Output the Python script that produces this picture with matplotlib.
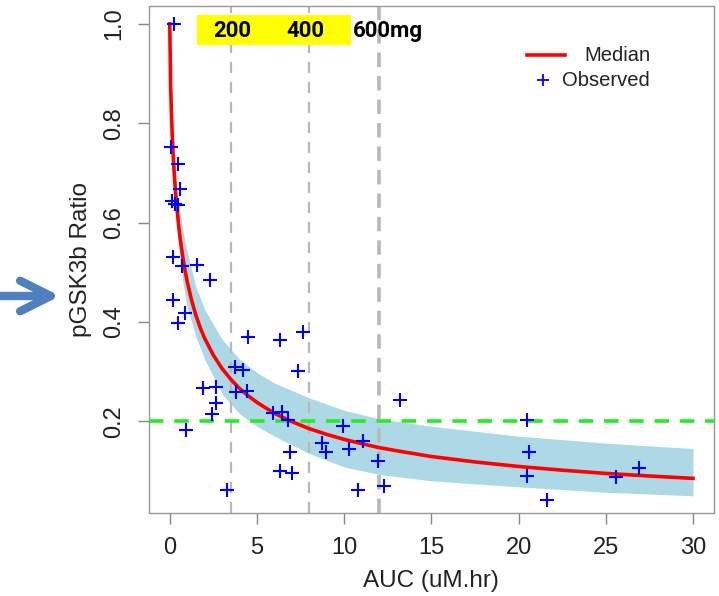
import matplotlib
matplotlib.use("Agg")
import matplotlib.pyplot as plt
from matplotlib.lines import Line2D

plt.rcParams['font.family'] = ['Liberation Sans', 'DejaVu Sans']

# observed pGSK3b ratio vs AUC
obs_auc = [0.22, 0.09, 0.5, 0.6, 0.1, 0.3, 0.45, 0.18, 0.7, 1.56, 2.32, 0.18, 0.85,
           0.45, 4.47, 6.3, 7.62, 7.34, 3.75, 4.22, 1.9, 2.66, 3.8, 4.45, 2.66, 2.45,
           0.94, 3.27, 5.94, 6.42, 6.8, 6.9, 6.33, 7.0, 9.91, 8.71, 8.96, 10.29, 11.1,
           11.95, 10.77, 12.28, 13.2, 20.5, 20.6, 20.5, 21.63, 25.6, 26.9]
obs_ratio = [1.0, 0.752, 0.718, 0.667, 0.643, 0.638, 0.636, 0.531, 0.512, 0.514, 0.484,
             0.444, 0.417, 0.397, 0.37, 0.363, 0.379, 0.301, 0.309, 0.304, 0.266, 0.268,
             0.259, 0.261, 0.236, 0.214, 0.182, 0.061, 0.217, 0.219, 0.202, 0.138, 0.1,
             0.096, 0.19, 0.156, 0.138, 0.145, 0.16, 0.12, 0.061, 0.07, 0.243, 0.202,
             0.138, 0.089, 0.042, 0.087, 0.105]

# median prediction
med_auc = [0, 0.05, 0.1, 0.15, 0.2, 0.25, 0.3, 0.35, 0.4, 0.5, 0.6, 0.75, 0.9, 1, 1.25,
           1.5, 1.75, 2, 2.5, 3, 3.5, 4, 4.5, 5, 6, 7, 8, 9, 10, 11, 12, 13, 15, 17.5,
           20, 22.5, 25, 27.5, 30]
med_ratio = [1.0, 0.875, 0.815, 0.770, 0.733, 0.703, 0.677, 0.654, 0.633, 0.597, 0.567,
             0.53, 0.499, 0.481, 0.4436, 0.413, 0.388, 0.367, 0.333, 0.306, 0.2844, 0.266,
             0.2511, 0.238, 0.216, 0.1992, 0.185, 0.1735, 0.1635, 0.1549, 0.147, 0.1407,
             0.129, 0.1181, 0.109, 0.1015, 0.095, 0.0898, 0.085]

# prediction interval band
band_auc = [0.4, 0.5, 0.75, 1, 1.5, 2, 3, 4, 5, 6, 8, 10, 12, 15, 20, 25, 30]
band_lo = [0.60, 0.56, 0.48, 0.43, 0.37, 0.325, 0.255, 0.215, 0.19, 0.17, 0.135, 0.108,
           0.093, 0.08, 0.068, 0.057, 0.05]
band_hi = [0.66, 0.64, 0.585, 0.54, 0.47, 0.425, 0.365, 0.325, 0.298, 0.277, 0.247,
           0.222, 0.205, 0.19, 0.17, 0.156, 0.145]

dose_auc = [3.5, 8, 12]
dose_labels = ['200', '400', '600mg']
target = 0.2

fig = plt.figure(figsize=(7.19, 5.96), dpi=100)
ax = fig.add_axes([0.207, 0.139, 0.786, 0.851])

ax.fill_between(band_auc, band_lo, band_hi, color='#ADD8E6', lw=0, zorder=1)
ax.plot(med_auc, med_ratio, color='red', lw=2.6, zorder=4, solid_joinstyle='round')
ax.plot(obs_auc, obs_ratio, '+', color='blue', ms=10, mew=1.5, zorder=5)

ax.axhline(target, color='#22EE22', lw=2.6, ls=(0, (4, 3)), zorder=3)
ax.axvline(dose_auc[0], color='#B8B8B8', lw=1.6, ls=(0, (5, 4)), zorder=2)
ax.axvline(dose_auc[1], color='#B8B8B8', lw=1.6, ls=(0, (5, 4)), zorder=2)
ax.axvline(dose_auc[2], color='#B8B8B8', lw=2.6, ls=(0, (4, 2.5)), zorder=2)

# yellow dose banner
ax.fill_between([1.58, 10.4], 0.957, 1.018, color='#FFFF00', lw=0, zorder=6)
bold = dict(family=['Roboto', 'DejaVu Sans'], fontweight='bold', fontsize=16,
            va='center', zorder=7)
ax.text(3.6, 0.986, dose_labels[0], ha='center', **bold)
ax.text(7.75, 0.986, dose_labels[1], ha='center', **bold)
ax.text(10.5, 0.986, dose_labels[2], ha='left', **bold)

ax.set_xlim(-1.2, 31.2)
ax.set_ylim(0.015, 1.036)
ax.set_xticks([0, 5, 10, 15, 20, 25, 30])
ax.set_yticks([0.2, 0.4, 0.6, 0.8, 1.0])
ax.set_yticklabels(['0.2', '0.4', '0.6', '0.8', '1.0'], rotation=90, va='center')
ax.tick_params(length=8, width=1, color='#888888', labelsize=17, labelcolor='#222222', pad=9)
for s in ax.spines.values():
    s.set_color('#999999')
    s.set_linewidth(1)

ax.set_xlabel('AUC (uM.hr)', fontsize=17.5, color='#222222', labelpad=8)
ax.set_ylabel('pGSK3b Ratio', fontsize=17.5, color='#222222', labelpad=8)

# legend with right-aligned labels
ax.add_line(Line2D([0.669, 0.736], [0.903, 0.903], transform=ax.transAxes, color='red', lw=2.6))
ax.add_line(Line2D([0.697], [0.854], transform=ax.transAxes, marker='+', color='blue',
                   ms=8, mew=1.3, ls='none'))
ax.text(0.887, 0.903, 'Median', transform=ax.transAxes, ha='right', va='center',
        fontsize=14.5, color='#222222')
ax.text(0.887, 0.854, 'Observed', transform=ax.transAxes, ha='right', va='center',
        fontsize=14.5, color='#222222')

# pointer arrow at the left
ax.annotate('', xy=(60, 300), xytext=(0, 300), xycoords='figure pixels',
            textcoords='figure pixels', annotation_clip=False,
            arrowprops=dict(arrowstyle='->,head_length=2.2,head_width=1.1', lw=6,
                            color='#4F7FBF', capstyle='round', joinstyle='round',
                            shrinkA=0, shrinkB=0))

fig.savefig('out.png', dpi=100)
